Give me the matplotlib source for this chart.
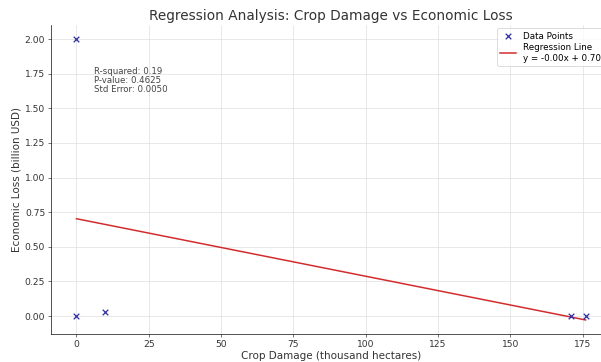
import numpy as np
import matplotlib
matplotlib.use("Agg")
import matplotlib.pyplot as plt

# data
crop_damage = [0, 0, 10, 171, 176]          # thousand hectares
economic_loss = [2.0, 0.0, 0.03, 0.0, 0.0]  # billion USD
stats_text = "R-squared: 0.19\nP-value: 0.4625\nStd Error: 0.0050"

x = np.array(crop_damage, dtype=float)
y = np.array(economic_loss, dtype=float)
slope, intercept = np.polyfit(x, y, 1)
xfit = np.array([x.min(), x.max()])
yfit = slope * xfit + intercept

fig = plt.figure(figsize=(10, 362 / 60.1), dpi=60.1)
ax = fig.add_axes([51 / 601, 28 / 362, 560 / 601, 309 / 362])

ax.scatter(x, y, marker="x", color="#2b2bb5", s=45, label="Data Points", zorder=3)
ax.plot(xfit, yfit, color="#d42a2a", linewidth=1.8,
        label=f"Regression Line\ny = {slope:.2f}x + {intercept:.2f}")

ax.text(6, 1.80, stats_text, fontsize=10.3, color="#444444", va="top", linespacing=1.05)

ax.set_title("Regression Analysis: Crop Damage vs Economic Loss", fontsize=16.4, color="#333333")
ax.set_xlabel("Crop Damage (thousand hectares)", fontsize=12.5, color="#333333", labelpad=2)
ax.set_ylabel("Economic Loss (billion USD)", fontsize=12.5, color="#333333")
ax.tick_params(labelsize=11, colors="#333333")
ax.grid(True, color="#dddddd", linewidth=0.8)
ax.spines["top"].set_visible(False)
ax.spines["right"].set_visible(False)
ax.legend(loc="upper left", bbox_to_anchor=(0.796, 0.99), borderaxespad=0,
          fontsize=10.5, handlelength=1.8, labelspacing=0.3)

fig.savefig("out.png", dpi=60.1)
